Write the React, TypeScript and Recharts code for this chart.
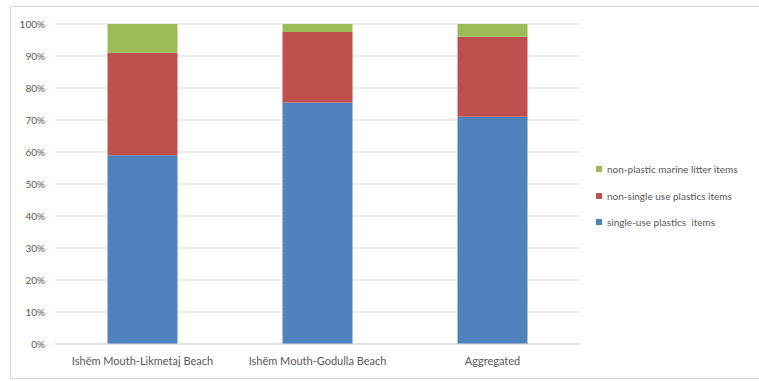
import { BarChart, Bar, XAxis, YAxis, CartesianGrid } from 'recharts';

const categories = ['Ishëm Mouth-Likmetaj Beach', 'Ishëm Mouth-Godulla Beach', 'Aggregated'];
const singleUse = [59, 75.5, 71];
const nonSingleUse = [32, 22, 25];
const nonPlastic = [9, 2.5, 4];
const yTicks = [0, 10, 20, 30, 40, 50, 60, 70, 80, 90, 100];

const series = [
  { key: 'nonPlastic', name: 'non-plastic marine litter items', color: '#9bbb59' },
  { key: 'nonSingleUse', name: 'non-single use plastics items', color: '#c0504d' },
  { key: 'singleUse', name: 'single-use plastics  items', color: '#4f81bd' },
];

const data = categories.map((name, i) => ({
  name,
  singleUse: singleUse[i],
  nonSingleUse: nonSingleUse[i],
  nonPlastic: nonPlastic[i],
}));

const FONT = 'Lato, "Open Sans", sans-serif';
const TEXT = '#595959';

export default function App() {
  return (
    <div style={{ position: 'fixed', left: 0, top: 0, width: 759, height: 381, background: '#fff', fontFamily: FONT }}>
      {/* chart frame */}
      <div
        style={{
          position: 'absolute', left: 10, top: 6, width: 760, height: 373,
          border: '1px solid #d9d9d9', boxSizing: 'border-box',
        }}
      />
      <BarChart
        width={759}
        height={381}
        data={data}
        margin={{ top: 24, right: 179, left: 10, bottom: 7 }}
        barCategoryGap="30%"
      >
        <CartesianGrid vertical={false} stroke="#d9d9d9" />
        <XAxis
          dataKey="name"
          height={30}
          tickLine={false}
          axisLine={{ stroke: '#d9d9d9' }}
          tick={{ fill: TEXT, fontSize: 11, fontFamily: FONT }}
          tickMargin={7}
          interval={0}
        />
        <YAxis
          width={45}
          domain={[0, 100]}
          ticks={yTicks}
          tickFormatter={(v) => `${v}%`}
          tickLine={false}
          axisLine={false}
          tick={{ fill: TEXT, fontSize: 10, fontFamily: FONT }}
          tickMargin={4}
        />
        <Bar dataKey="singleUse" stackId="a" fill="#4f81bd" isAnimationActive={false} />
        <Bar dataKey="nonSingleUse" stackId="a" fill="#c0504d" isAnimationActive={false} />
        <Bar dataKey="nonPlastic" stackId="a" fill="#9bbb59" isAnimationActive={false} />
      </BarChart>

      {/* legend */}
      <div style={{ position: 'absolute', left: 596, top: 156 }}>
        {series.map((s) => (
          <div key={s.key} style={{ display: 'flex', alignItems: 'center', height: 26.5, fontSize: 10, color: TEXT }}>
            <span style={{ width: 6, height: 6, background: s.color, marginRight: 5, display: 'inline-block' }} />
            <span style={{ whiteSpace: 'pre' }}>{s.name}</span>
          </div>
        ))}
      </div>
    </div>
  );
}
